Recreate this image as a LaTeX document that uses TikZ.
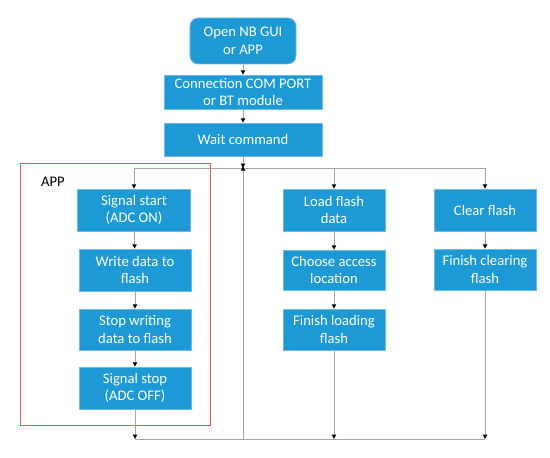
\documentclass[tikz,border=0pt]{standalone}
\usepackage{fontspec}
\setmainfont{Carlito}
\usetikzlibrary{arrows.meta,positioning,calc}
\definecolor{boxblue}{RGB}{29,154,214}
\definecolor{boxedge}{RGB}{110,185,228}
\definecolor{flowgray}{RGB}{165,165,165}
\definecolor{appred}{RGB}{236,85,85}
\tikzset{
  stepbox/.style={rectangle, fill=boxblue, draw=boxedge, line width=0.6pt, text=white,
    align=center, inner sep=0pt, minimum width=3.06cm, minimum height=1.26cm,
    font=\fontsize{12.5}{15}\selectfont},
  flow/.style={-{Triangle[length=1.3mm,width=1.3mm,color=black]}, line width=0.8pt, flowgray},
  flowln/.style={line width=0.8pt, flowgray},
}

\begin{document}
\begin{tikzpicture}[x=0.03cm, y=-0.03cm]
  \useasboundingbox (0,0) rectangle (550,458);
  % main trunk
  \node[stepbox, rounded corners=7pt, minimum width=3.18cm, minimum height=1.38cm] (open) at (243,41) {Open NB GUI\\or APP};
  \node[stepbox, minimum width=4.74cm, minimum height=1.02cm] (conn) at (243,92) {Connection COM PORT\\or BT module};
  \node[stepbox, minimum width=4.74cm, minimum height=0.99cm] (wait) at (243,139.5) {Wait command};
  \coordinate (split) at (243,168);
  \coordinate (merge) at (243,439);
  % APP branch
  \draw[appred, line width=0.8pt] (20,163) rectangle (210,425);
  \node[font=\fontsize{12.5}{15}\selectfont, anchor=west] (applbl) at (37,182) {APP};
  \node[stepbox, minimum width=3.39cm] (sigstart) at (134,210) {Signal start\\(ADC ON)};
  \node[stepbox, minimum width=3.36cm] (write) at (135,270) {Write data to\\flash};
  \node[stepbox, minimum width=3.36cm, minimum height=1.23cm] (stopwr) at (135,329.5) {Stop writing\\data to flash};
  \node[stepbox, minimum width=3.36cm] (sigstop) at (135,388) {Signal stop\\(ADC OFF)};
  % load branch
  \node[stepbox] (loaddata) at (334,210) {Load flash\\data};
  \node[stepbox, minimum height=1.2cm] (choose) at (334,270) {Choose access\\location};
  \node[stepbox, minimum height=1.23cm] (finload) at (334,329.5) {Finish loading\\flash};
  % clear branch
  \node[stepbox] (clear) at (485,210) {Clear flash};
  \node[stepbox, minimum height=1.23cm] (finclear) at (485,269.5) {Finish clearing\\flash};
  % merge points
  \coordinate (mapp) at (sigstop |- merge);
  \coordinate (mload) at (finload |- merge);
  \coordinate (mclear) at (finclear |- merge);
  % connectors
  \draw[flow] (open) -- (conn);
  \draw[flow] (conn) -- (wait);
  \draw[flow] (wait) -- (split);
  \draw[flow] (split) -| (sigstart);
  \draw[flow] (split) -| (loaddata);
  \draw[flow] (split) -| (clear);
  \draw[flow] (sigstart) -- (write);
  \draw[flow] (write) -- (stopwr);
  \draw[flow] (stopwr) -- (sigstop);
  \draw[flow] (loaddata) -- (choose);
  \draw[flow] (choose) -- (finload);
  \draw[flow] (clear) -- (finclear);
  \draw[flow] (sigstop) -- (mapp);
  \draw[flow] (finload) -- (mload);
  \draw[flow] (finclear) -- (mclear);
  \draw[flowln] (mapp) -- (mclear);
  \draw[flow, shorten >=-1.5pt] (merge) -- (split);
\end{tikzpicture}
\end{document}
